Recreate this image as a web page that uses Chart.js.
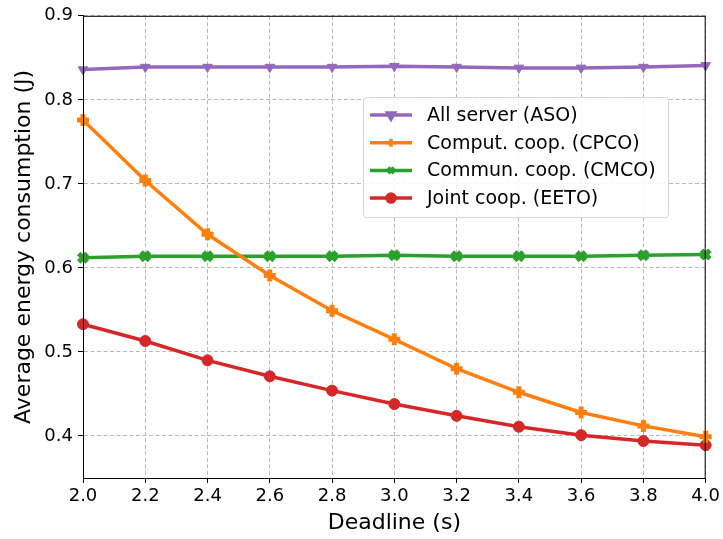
<!DOCTYPE html>
<html>
<head>
<meta charset="utf-8">
<script src="https://cdn.jsdelivr.net/npm/chart.js@4"></script>
<style>
  html, body { margin: 0; padding: 0; background: #fff; }
  #wrap { width: 723px; height: 539px; }
</style>
</head>
<body>
<div id="wrap"><canvas id="energy" width="723" height="539"></canvas></div>
<script>
// deadline values (s)
const deadlines = [2.0, 2.2, 2.4, 2.6, 2.8, 3.0, 3.2, 3.4, 3.6, 3.8, 4.0];
const asoValues = [0.836, 0.839, 0.839, 0.839, 0.839, 0.840, 0.839, 0.838, 0.838, 0.839, 0.841];
const cpcoValues = [0.776, 0.704, 0.640, 0.591, 0.549, 0.515, 0.480, 0.452, 0.428, 0.412, 0.399];
const cmcoValues = [0.612, 0.614, 0.614, 0.614, 0.614, 0.615, 0.614, 0.614, 0.614, 0.615, 0.616];
const eetoValues = [0.533, 0.513, 0.490, 0.471, 0.454, 0.438, 0.424, 0.411, 0.401, 0.394, 0.389];
const yTicks = [0.4, 0.5, 0.6, 0.7, 0.8, 0.9];
const xTicks = [2.0, 2.2, 2.4, 2.6, 2.8, 3.0, 3.2, 3.4, 3.6, 3.8, 4.0];
const labels = ["All server (ASO)", "Comput. coop. (CPCO)", "Commun. coop. (CMCO)", "Joint coop. (EETO)"];

const FONT = "'DejaVu Sans', sans-serif";
Chart.defaults.font.family = FONT;
Chart.defaults.color = "#000";

const toPoints = (vals) => vals.map((v, i) => ({ x: deadlines[i], y: v }));

function series(label, vals, color, style, extra) {
  return Object.assign({
    label: label,
    data: toPoints(vals),
    borderColor: color,
    backgroundColor: color,
    pointBackgroundColor: color,
    pointBorderColor: color,
    borderWidth: 3.5,
    pointStyle: style,
    pointRadius: 5.5,
    pointBorderWidth: 1,
    tension: 0,
    clip: false,
  }, extra || {});
}

// legend box drawn inside the plot, plus the full frame around the plot area
const boxAndLegend = {
  id: "boxAndLegend",
  afterDraw(chart) {
    const ctx = chart.ctx;
    const a = chart.chartArea;
    ctx.save();
    ctx.strokeStyle = "#000";
    ctx.lineWidth = 1;
    ctx.setLineDash([]);
    ctx.strokeRect(a.left + 0.5, a.top + 0.5, a.right - a.left - 1, a.bottom - a.top);

    const lx = 363, ly = 97, lw = 305, lh = 120;
    ctx.fillStyle = "rgba(255,255,255,0.85)";
    ctx.strokeStyle = "#d6d6d6";
    ctx.beginPath();
    ctx.roundRect(lx + 0.5, ly + 0.5, lw, lh, 3);
    ctx.fill();
    ctx.stroke();

    ctx.font = "19px " + FONT;
    ctx.textBaseline = "middle";
    chart.data.datasets.forEach((ds, i) => {
      const cy = ly + 18 + i * 27.7;
      ctx.strokeStyle = ds.borderColor;
      ctx.fillStyle = ds.borderColor;
      ctx.lineWidth = 3.5;
      ctx.beginPath();
      ctx.moveTo(lx + 7, cy);
      ctx.lineTo(lx + 49, cy);
      ctx.stroke();
      Chart.helpers.drawPoint(ctx, {
        pointStyle: ds.pointStyle,
        rotation: ds.pointRotation || 0,
        borderWidth: Math.min(ds.pointBorderWidth, 3),
        radius: 4,
      }, lx + 28, cy);
      ctx.fillStyle = "#000";
      ctx.fillText(labels[i], lx + 64, cy + 1);
    });
    ctx.restore();
  }
};

const gridOpts = {
  color: "#b8b8b8",
  tickColor: "#000",
  tickBorderDash: [],
  tickLength: 5,
  tickWidth: 1,
};

new Chart(document.getElementById("energy"), {
  type: "line",
  data: {
    datasets: [
      series(labels[0], asoValues, "#9467bd", "triangle", { pointRotation: 180, pointRadius: 5.5 }),
      series(labels[1], cpcoValues, "#ff7f0e", "cross", { pointBorderWidth: 5, pointRadius: 6 }),
      series(labels[2], cmcoValues, "#2ca02c", "crossRot", { pointBorderWidth: 5, pointRadius: 6 }),
      series(labels[3], eetoValues, "#d62728", "circle"),
    ],
  },
  options: {
    responsive: false,
    animation: false,
    layout: { padding: { left: 0, right: 16, top: 14, bottom: 0 } },
    plugins: {
      legend: { display: false },
      tooltip: { enabled: false },
    },
    scales: {
      x: {
        type: "linear",
        min: 2.0,
        max: 4.0,
        afterBuildTicks: (s) => { s.ticks = xTicks.map((v) => ({ value: v })); },
        afterFit: (s) => { s.height = 61; },
        ticks: {
          font: { size: 18 },
          padding: 3,
          maxRotation: 0,
          callback: (v) => Number(v).toFixed(1),
        },
        grid: gridOpts,
        border: { color: "#000", width: 1, dash: [4, 2.5] },
        title: { display: true, text: "Deadline (s)", font: { size: 22 }, padding: { top: 0, bottom: 3 } },
      },
      y: {
        type: "linear",
        min: 0.35,
        max: 0.9,
        afterBuildTicks: (s) => { s.ticks = yTicks.map((v) => ({ value: v })); },
        afterFit: (s) => { s.width = 83; },
        ticks: {
          font: { size: 18 },
          padding: 5,
          callback: (v) => Number(v).toFixed(1),
        },
        grid: gridOpts,
        border: { color: "#000", width: 1, dash: [4, 2.5] },
        title: { display: true, text: "Average energy consumption (J)", font: { size: 22 }, padding: { top: 11, bottom: 0 } },
      },
    },
  },
  plugins: [boxAndLegend],
});
</script>
</body>
</html>
